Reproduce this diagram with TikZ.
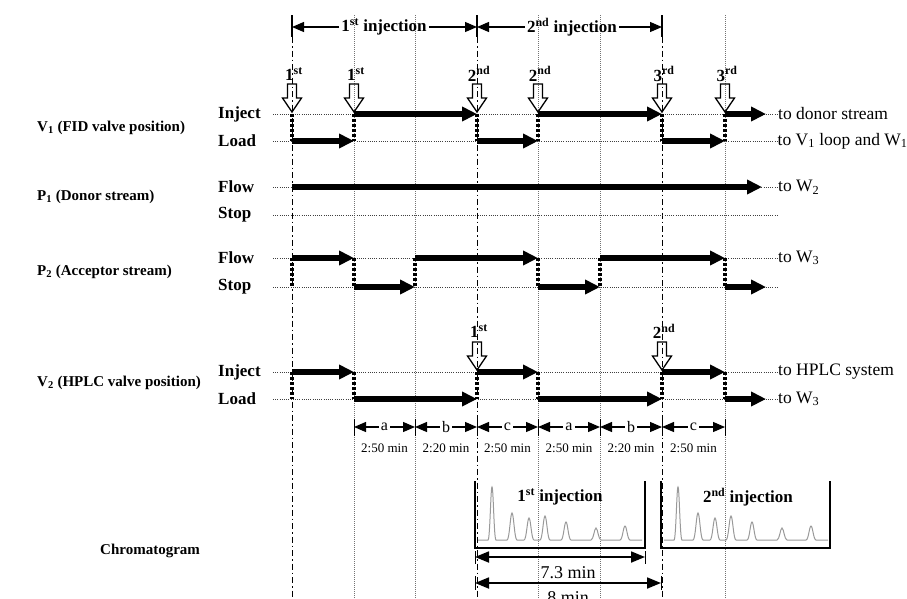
\documentclass[tikz,border=0pt]{standalone}
\usepackage{fontspec}
\setmainfont{Liberation Serif}
\usetikzlibrary{arrows.meta}
\newcommand\setfs[1]{\fontsize{#1}{#1}\selectfont}
\newcommand\chrompeaks[1]{%
  \draw[peak] (#1+3,540) foreach \o/\h/\w in {17/53/4,37/27/5,54/22/5,70/24/5,91/18/5,121/12/5,150/14/5}
   { -- (#1+\o-\w,540) .. controls (#1+\o-\w/2,540) and (#1+\o-\w/3,540-\h) .. (#1+\o,540-\h)
     .. controls (#1+\o+\w/3,540-\h) and (#1+\o+\w/2,540) .. (#1+\o+\w,540) } -- (#1+167,540);}
\begin{document}
\begin{tikzpicture}[x=1pt,y=-1pt,
  vgrid/.style={line width=0.8pt,black!55,dash pattern=on 1pt off 1pt},
  ddline/.style={line width=1pt,black,dash pattern=on 6pt off 3pt on 1.5pt off 3pt},
  guide/.style={line width=0.8pt,black!75,dash pattern=on 1pt off 1.2pt},
  bar/.style={line width=2.5pt},
  thk/.style={line width=5.5pt,-{Triangle[length=15pt,width=14pt]}},
  trans/.style={line width=4pt,dash pattern=on 3pt off 2pt},
  tipL/.style={line width=1.2pt,-{Triangle[length=12pt,width=10pt]}},
  dimboth/.style={line width=1.8pt,{Triangle[length=14pt,width=11pt]}-{Triangle[length=14pt,width=11pt]}},
  lab/.style={font=\bfseries\setfs{15},anchor=west,inner sep=0pt},
  rowlab/.style={font=\bfseries\setfs{17},anchor=west,inner sep=0pt},
  dest/.style={font=\setfs{17.5},anchor=west,inner sep=1pt},
  mk/.style={font=\bfseries\setfs{17},inner sep=0pt},
  tm/.style={font=\setfs{13},inner sep=0pt},
  abc/.style={font=\setfs{16},inner sep=2pt},
  boxtxt/.style={font=\bfseries\setfs{17},inner sep=0pt},
  peak/.style={line width=1pt,black!40},
  hdown/.pic={\draw[line width=1.3pt] (-4.5,-28) -- (4.5,-28) -- (4.5,-14) -- (9.5,-14) -- (0,0) -- (-9.5,-14) -- (-4.5,-14) -- cycle;}
]
\useasboundingbox (0,0) rectangle (907,598);

% vertical time lines
\foreach \x/\n in {354/g1,415/g2,538/g3,600/g4,725/g5}
  \draw[vgrid] (\x,15) coordinate (\n t) -- (\x,598) coordinate (\n b);
\foreach \x/\n in {292/d0,477/d1,662/d2}{
  \draw[ddline] (\x,37) coordinate (\n m) -- (\x,598) coordinate (\n b);
  \draw[bar] (\x,15) coordinate (\n t) -- (\n m);}

% top dimensions
\node[font=\bfseries\setfs{17},inner sep=2pt] (inj1) at (384,27) {1\textsuperscript{st} injection};
\node[font=\bfseries\setfs{17},inner sep=2pt] (inj2) at (572,27) {2\textsuperscript{nd} injection};
\draw[tipL] (inj1.west) -- (292,27);
\draw[tipL] (inj1.east) -- (477,27);
\draw[tipL] (inj2.west) -- (477,27);
\draw[tipL] (inj2.east) -- (662,27);

% left labels
\node[lab] (v1) at (37,128) {V\textsubscript{1} (FID valve position)};
\node[lab] (p1) at (37,197) {P\textsubscript{1} (Donor stream)};
\node[lab] (p2) at (37,272) {P\textsubscript{2} (Acceptor stream)};
\node[lab] (v2) at (37,383) {V\textsubscript{2} (HPLC valve position)};
\node[lab] (chr) at (100,551) {Chromatogram};

% row labels and guide lines
\foreach \y/\t/\n in {114/Inject/v1i,141/Load/v1l,187/Flow/p1f,215/Stop/p1s,258/Flow/p2f,287/Stop/p2s,372/Inject/v2i,399/Load/v2l}{
  \node[rowlab] (\n) at (218,\y) {\t};
  \draw[guide] (273,\y) coordinate (\n s) -- (777,\y) coordinate (\n e);}

% destinations
\node[dest] (dv1i) at (v1ie) {to donor stream};
\node[dest,inner sep=0.5pt] (dv1l) at (v1le) {to V\textsubscript{1} loop and W\textsubscript{1}};
\node[dest] (dp1f) at (p1fe) {to W\textsubscript{2}};
\node[dest] (dp2f) at (p2fe) {to W\textsubscript{3}};
\node[dest] (dv2i) at (v2ie) {to HPLC system};
\node[dest] (dv2l) at (v2le) {to W\textsubscript{3}};

% V1 states (Inject 114, Load 141)
\foreach \x in {292,354,477,538,662,725} \draw[trans] (\x,114) -- (\x,141);
\draw[thk] (292,141) -- (354,141);
\draw[thk] (354,114) -- (477,114);
\draw[thk] (477,141) -- (538,141);
\draw[thk] (538,114) -- (662,114);
\draw[thk] (662,141) -- (725,141);
\draw[thk] (725,114) -- (766,114);

% P1 (Flow 187)
\draw[thk] (292,187) -- (762,187);

% P2 (Flow 258, Stop 287)
\foreach \x in {292,354,415,538,600,725} \draw[trans] (\x,258) -- (\x,287);
\draw[thk] (292,258) -- (354,258);
\draw[thk] (354,287) -- (415,287);
\draw[thk] (415,258) -- (538,258);
\draw[thk] (538,287) -- (600,287);
\draw[thk] (600,258) -- (725,258);
\draw[thk] (725,287) -- (766,287);

% V2 (Inject 372, Load 399)
\foreach \x in {292,354,477,538,662,725} \draw[trans] (\x,372) -- (\x,399);
\draw[thk] (292,372) -- (354,372);
\draw[thk] (354,399) -- (477,399);
\draw[thk] (477,372) -- (538,372);
\draw[thk] (538,399) -- (662,399);
\draw[thk] (662,372) -- (725,372);
\draw[thk] (725,399) -- (766,399);

% injection markers
\foreach \x/\t in {292/1\textsuperscript{st},354/1\textsuperscript{st},477/2\textsuperscript{nd},538/2\textsuperscript{nd},662/3\textsuperscript{rd},725/3\textsuperscript{rd}}{
  \node[mk] at (\x+2,74) {\t};
  \pic at (\x,112) {hdown};}
\foreach \x/\t in {477/1\textsuperscript{st},662/2\textsuperscript{nd}}{
  \node[mk] at (\x+2,331) {\t};
  \pic at (\x,370) {hdown};}

% a b c intervals
\foreach \x in {354,415,477,538,600,662,725} \draw[line width=1pt] (\x,419) -- (\x,436);
\foreach \xa/\xb/\t/\n/\d in {354/415/a/ia/2:50,415/477/b/ib/2:20,477/538/c/ic/2:50,538/600/a/id/2:50,600/662/b/ie/2:20,662/725/c/if/2:50}{
  \node[abc] (\n) at ({(\xa+\xb)/2},427) {\t};
  \draw[tipL] (\n.west) -- (\xa,427);
  \draw[tipL] (\n.east) -- (\xb,427);
  \node[tm] at ({(\xa+\xb)/2},448) {\d\ min};}

% chromatograms
\chrompeaks{475}
\chrompeaks{661}
\draw[line width=2.5pt] (475,481) -- (475,548) -- (645,548) -- (645,481);
\draw[line width=2.5pt] (661,481) -- (661,548) -- (830,548) -- (830,481);
\node[boxtxt] (b1) at (560,497) {1\textsuperscript{st} injection};
\node[boxtxt] (b2) at (748,497) {2\textsuperscript{nd} injection};

% durations
\coordinate (s1) at (475,557); \coordinate (e1) at (645,557);
\coordinate (s2) at (475,583); \coordinate (e2) at (661,583);
\draw[line width=1pt] (475,551) -- (475,564) (645,551) -- (645,564);
\draw[line width=1pt] (475,576) -- (475,590) (661,576) -- (661,590);
\draw[dimboth] (s1) -- (e1);
\draw[dimboth] (s2) -- (e2);
\node[font=\setfs{18},inner sep=0pt] at (568,573) {7.3 min};
\node[font=\setfs{18},inner sep=0pt,anchor=base] at (568,603) {8 min};
\end{tikzpicture}
\end{document}
